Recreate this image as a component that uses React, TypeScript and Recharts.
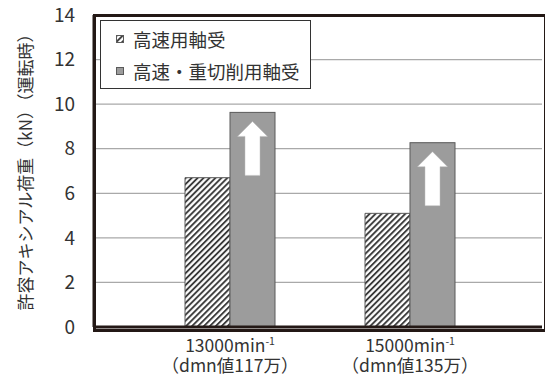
import React from "react";
import { BarChart, Bar, XAxis, YAxis, CartesianGrid, Legend, Label } from "recharts";

const SPEEDS = ["13000min", "15000min"];
const DMN_LABELS = ["（dmn値117万）", "（dmn値135万）"];
const HIGH_SPEED = [6.7, 5.1];
const HEAVY_CUT = [9.63, 8.27];
const Y_TICKS = [0, 2, 4, 6, 8, 10, 12, 14];
const SERIES_NAMES = ["高速用軸受", "高速・重切削用軸受"];
const Y_LABEL = "許容アキシアル荷重（kN）（運転時）";

const data = SPEEDS.map((s, i) => ({ name: s, high: HIGH_SPEED[i], heavy: HEAVY_CUT[i] }));

const FONT = "'Noto Sans CJK JP', 'Noto Sans', sans-serif";
const textColor = "#333";
const frameColor = "#231815";
const gridColor = "#a9a9a9";
const barStroke = "#5a5a5a";
const greyFill = "#9c9c9c";

const W = 545;
const H = 377;
const MARGIN = { top: 15, right: 3, bottom: 0, left: 0 };
const Y_AXIS_W = 94;
const X_AXIS_H = 50;

const XTick = (props: any) => {
  const { x, y, index } = props;
  return (
    <g>
      <text x={x} y={y + 23} textAnchor="middle" fontSize={17.5} fill={textColor} fontFamily={FONT}>
        {SPEEDS[index]}
        <tspan fontSize={10.5} dy={-7}>-1</tspan>
      </text>
      <text x={x} y={y + 43} textAnchor="middle" fontSize={17.5} fill={textColor} fontFamily={FONT}>
        {DMN_LABELS[index]}
      </text>
    </g>
  );
};

// grey bar with the white "up" arrow drawn inside, relative to the bar itself
const ArrowBar = (props: any) => {
  const { x, y, width, height } = props;
  const cx = x + width / 2;
  const top = y + 9;
  const headH = 15;
  const headW = 30;
  const shaftW = 15;
  const bottom = y + 63;
  const arrow = [
    `M${cx},${top}`,
    `L${cx + headW / 2},${top + headH}`,
    `L${cx + shaftW / 2},${top + headH}`,
    `L${cx + shaftW / 2},${bottom}`,
    `L${cx - shaftW / 2},${bottom}`,
    `L${cx - shaftW / 2},${top + headH}`,
    `L${cx - headW / 2},${top + headH}`,
    "Z",
  ].join(" ");
  return (
    <g>
      <rect x={x} y={y} width={width} height={height} fill={greyFill} stroke={barStroke} strokeWidth={1} />
      <path d={arrow} fill="#ffffff" stroke="#bdbdbd" strokeWidth={0.5} />
    </g>
  );
};

const LegendBox = () => (
  <div
    style={{
      display: "inline-block",
      border: "1px solid #333",
      background: "#fff",
      padding: "2px 10px 1px 15px",
      fontFamily: FONT,
      fontSize: 18.5,
      color: textColor,
      lineHeight: "32px",
      whiteSpace: "nowrap",
    }}
  >
    {SERIES_NAMES.map((name, i) => (
      <div key={name} style={{ display: "flex", alignItems: "center" }}>
        <svg width={8} height={8} style={{ marginRight: 9 }}>
          <rect x={0.5} y={0.5} width={7} height={7} fill={i === 0 ? "url(#hatch)" : greyFill} stroke={barStroke} strokeWidth={1} />
        </svg>
        <span>{name}</span>
      </div>
    ))}
  </div>
);

export default function App() {
  // plot frame box, derived from the same chart margins / axis sizes
  const frame = {
    left: MARGIN.left + Y_AXIS_W,
    top: MARGIN.top,
    width: W - MARGIN.left - MARGIN.right - Y_AXIS_W,
    height: H - MARGIN.top - MARGIN.bottom - X_AXIS_H,
  };
  return (
    <div style={{ position: "fixed", left: 0, top: 0, width: W, height: H, background: "#fff", overflow: "hidden" }}>
      <BarChart width={W} height={H} data={data} margin={MARGIN} barGap={0}>
        <defs>
          <pattern id="hatch" patternUnits="userSpaceOnUse" width={4.2} height={4.2} patternTransform="rotate(45)">
            <rect width={4.2} height={4.2} fill="#fff" />
            <line x1={1} y1={0} x2={1} y2={4.2} stroke="#2e2e2e" strokeWidth={1.8} />
          </pattern>
        </defs>
        <CartesianGrid
          vertical={false}
          stroke={gridColor}
          strokeWidth={1.2}
          x={frame.left}
          width={frame.width}
        />
        <XAxis
          dataKey="name"
          height={X_AXIS_H}
          padding={{ left: 46, right: 42 }}
          axisLine={{ stroke: frameColor, strokeWidth: 3 }}
          tickLine={false}
          tickSize={0}
          tick={<XTick />}
          interval={0}
        />
        <YAxis
          width={Y_AXIS_W}
          domain={[0, 14]}
          ticks={Y_TICKS}
          tickLine={false}
          tickSize={0}
          tickMargin={19}
          axisLine={{ stroke: frameColor, strokeWidth: 3 }}
          tick={{ fontSize: 19, fill: textColor, fontFamily: FONT }}
        >
          <Label
            content={({ viewBox }: any) => {
              const cx = viewBox.x + 24;
              const cy = viewBox.y + viewBox.height / 2 - 3;
              return (
                <text x={cx} y={cy} transform={`rotate(-90 ${cx} ${cy})`} textAnchor="middle" dominantBaseline="central" fontSize={17} fill={textColor} fontFamily={FONT}>
                  {Y_LABEL}
                </text>
              );
            }}
          />
        </YAxis>
        <Legend
          layout="vertical"
          align="center"
          verticalAlign="middle"
          content={<LegendBox />}
          wrapperStyle={{ left: 100, top: 20, width: "auto", height: "auto" }}
        />
        <Bar dataKey="high" name={SERIES_NAMES[0]} fill="url(#hatch)" stroke={barStroke} strokeWidth={1} barSize={45} isAnimationActive={false} />
        <Bar dataKey="heavy" name={SERIES_NAMES[1]} fill={greyFill} barSize={45} shape={<ArrowBar />} isAnimationActive={false} />
      </BarChart>
      <div
        style={{
          position: "absolute",
          left: frame.left - 1.5,
          top: frame.top - 1.5,
          width: frame.width,
          height: frame.height,
          border: `3px solid ${frameColor}`,
          pointerEvents: "none",
        }}
      />
    </div>
  );
}
